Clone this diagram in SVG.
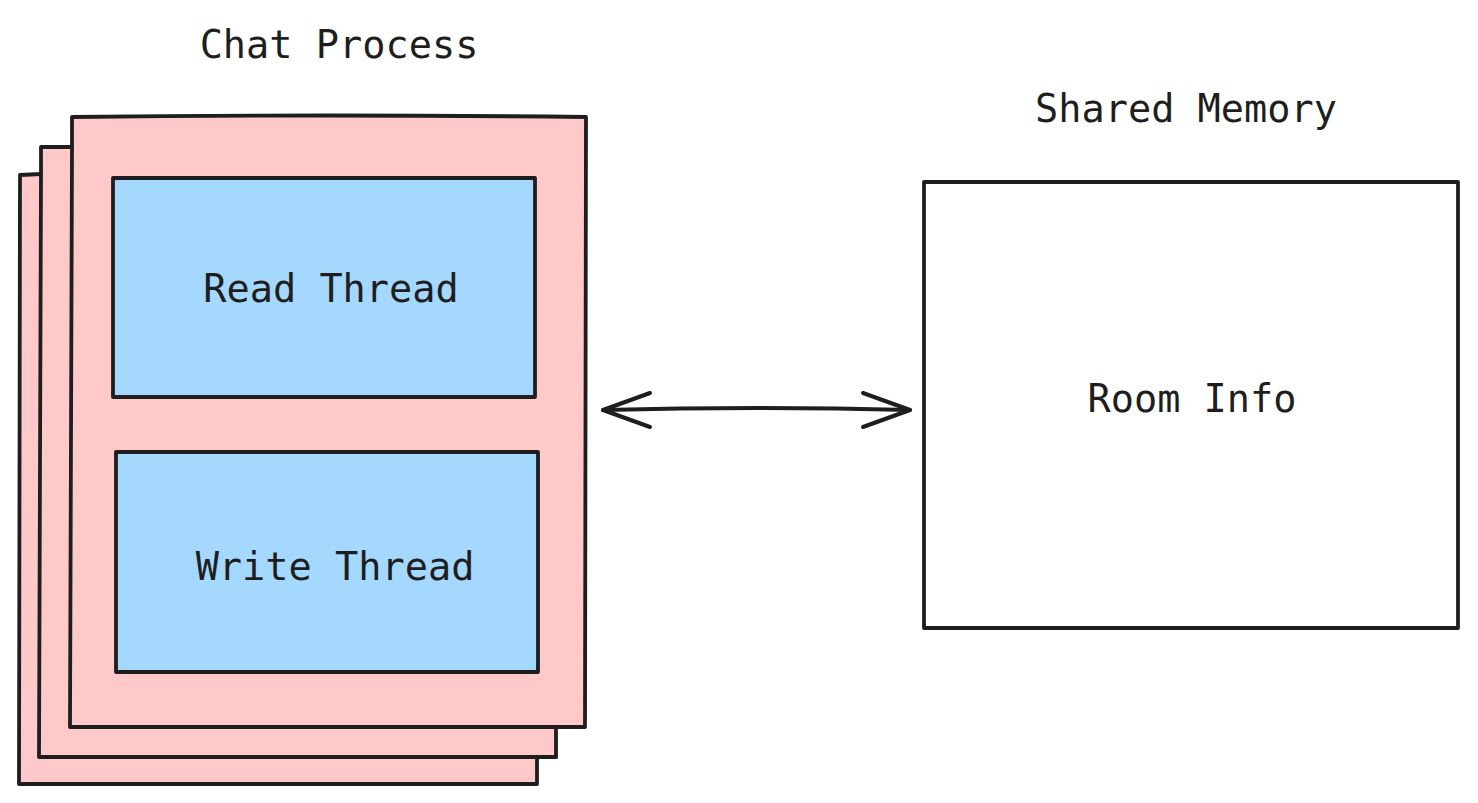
<svg xmlns="http://www.w3.org/2000/svg" width="1478" height="803" viewBox="0 0 1478 803">
<style>
.box{stroke:#1e1e1e;stroke-width:3.8;stroke-linejoin:round;stroke-linecap:round}
.pink{fill:#ffc9c9}
.blue{fill:#a5d8ff}
.white{fill:#ffffff}
.t{font-family:"DejaVu Sans Mono","Liberation Mono",monospace;font-size:38.6px;fill:#1e1e1e;text-anchor:middle}
.conn{stroke:#1e1e1e;stroke-width:4;fill:none;stroke-linecap:round;stroke-linejoin:round}
</style>
<rect width="1478" height="803" fill="#ffffff"/>
<g id="title-chat"><text class="t" x="339" y="58">Chat Process</text></g>
<g id="title-shared"><text class="t" x="1186" y="122">Shared Memory</text></g>
<g id="chat-process">
<path class="box pink" d="M20,175 L41,174 L41,147 L72,147 L72,117 Q330,114 586,117 L585,727 L556,727 L556,757 L537,757 L537,784 Q280,783 19,784 Z"/>
<path class="box" fill="none" d="M41,174 L39,757 L556,757 M72,147 L70,727 L556,727"/>
</g>
<g id="read-thread">
<rect class="box blue" x="113" y="178" width="422" height="219"/>
<text class="t" x="331" y="302">Read Thread</text>
</g>
<g id="write-thread">
<rect class="box blue" x="116" y="452" width="422" height="220"/>
<text class="t" x="335" y="580">Write Thread</text>
</g>
<g id="room-info">
<rect class="box white" x="924" y="182" width="534" height="446"/>
<text class="t" x="1192" y="412">Room Info</text>
</g>
<g id="connectors">
<path class="conn" d="M603,410 Q757,406 910,410"/>
<path class="conn" d="M650,393 L603,410 L650,427"/>
<path class="conn" d="M863,393 L910,410 L863,427"/>
</g>
</svg>
